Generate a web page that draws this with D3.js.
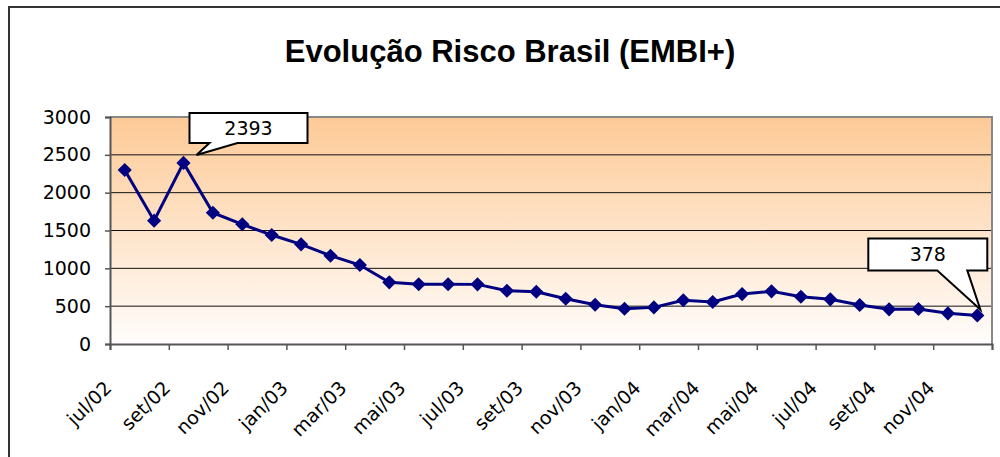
<!DOCTYPE html>
<html>
<head>
<meta charset="utf-8">
<script src="https://cdn.jsdelivr.net/npm/d3@7"></script>
<style>
  body { margin: 0; background: #fff; }
  svg { display: block; }
</style>
</head>
<body>
<svg width="1000" height="457"></svg>
<script>
// months jul/02 .. dez/04
var months = ["jul/02","ago/02","set/02","out/02","nov/02","dez/02",
  "jan/03","fev/03","mar/03","abr/03","mai/03","jun/03",
  "jul/03","ago/03","set/03","out/03","nov/03","dez/03",
  "jan/04","fev/04","mar/04","abr/04","mai/04","jun/04",
  "jul/04","ago/04","set/04","out/04","nov/04","dez/04"];

var embi = [2300, 1630, 2393, 1735, 1582, 1440, 1317, 1167, 1044, 815, 790, 790,
  788, 704, 691, 598, 519, 466, 484, 578, 555, 660, 696, 625, 590, 515, 458, 462, 405, 378];

var yTicks = [0, 500, 1000, 1500, 2000, 2500, 3000];
var callouts = [2, 29]; // indices with value boxes

var svg = d3.select("svg"),
    plotL = 110, plotR = 992, plotT = 117, plotB = 344;

var x = d3.scaleLinear().domain([0, months.length]).range([plotL, plotR]);
var y = d3.scaleLinear().domain([0, 3000]).range([plotB, plotT]);

// outer chart border
svg.append("path")
    .attr("d", "M9,458 L9,7 L1001,7")
    .attr("fill", "none")
    .attr("stroke", "#333")
    .attr("stroke-width", 2);

// title
svg.append("text")
    .attr("x", 510)
    .attr("y", 62)
    .attr("text-anchor", "middle")
    .style("font-family", "Liberation Sans, Arial, sans-serif")
    .style("font-weight", "bold")
    .style("font-size", "31px")
    .text("Evolução Risco Brasil (EMBI+)");

// plot background gradient
var grad = svg.append("defs").append("linearGradient")
    .attr("id", "bg")
    .attr("x1", 0).attr("y1", 0).attr("x2", 0).attr("y2", 1);
grad.append("stop").attr("offset", "0%").attr("stop-color", "#fdca96");
grad.append("stop").attr("offset", "100%").attr("stop-color", "#fffdfc");

svg.append("rect")
    .attr("x", plotL).attr("y", plotT)
    .attr("width", plotR - plotL).attr("height", plotB - plotT)
    .attr("fill", "url(#bg)");

// gridlines
svg.append("g")
    .selectAll("line")
    .data(yTicks.filter(function(d) { return d > 0 && d < 3000; }))
    .enter().append("line")
      .attr("x1", plotL).attr("x2", plotR)
      .attr("y1", function(d) { return y(d); })
      .attr("y2", function(d) { return y(d); })
      .attr("stroke", "#111")
      .attr("stroke-width", 1);

// plot border top/right
svg.append("path")
    .attr("d", "M" + plotL + "," + plotT + " L" + plotR + "," + plotT + " L" + plotR + "," + plotB)
    .attr("fill", "none")
    .attr("stroke", "#888")
    .attr("stroke-width", 2);

// y axis
var yAxis = svg.append("g")
    .attr("transform", "translate(" + plotL + ",0)")
    .call(d3.axisLeft(y).tickValues(yTicks).tickSize(5).tickPadding(14).tickFormat(d3.format("d")));
yAxis.select(".domain").attr("stroke", "#555").attr("stroke-width", 2);
yAxis.selectAll(".tick line").attr("stroke", "#555").attr("stroke-width", 1.5);
yAxis.selectAll("text")
    .style("font-family", "DejaVu Sans, Verdana, sans-serif")
    .style("font-size", "19px")
    .attr("fill", "#000");

// x axis
var xTicks = d3.range(0, months.length + 1, 2);
var xAxis = svg.append("g")
    .attr("transform", "translate(0," + plotB + ")")
    .call(d3.axisBottom(x).tickValues(xTicks).tickSize(6)
      .tickFormat(function(i) { return i < months.length ? months[i] : ""; }));
xAxis.select(".domain").attr("stroke", "#555").attr("stroke-width", 2);
xAxis.selectAll(".tick line").attr("stroke", "#555").attr("stroke-width", 1.5);
xAxis.selectAll("text")
    .attr("x", 0).attr("y", 0).attr("dy", null)
    .attr("text-anchor", "end")
    .attr("dominant-baseline", "hanging")
    .attr("transform", "translate(-8,35) rotate(-45)")
    .style("font-family", "DejaVu Sans, Verdana, sans-serif")
    .style("font-size", "19px")
    .attr("fill", "#000");

// series line
var line = d3.line()
    .x(function(d, i) { return x(i + 0.5); })
    .y(function(d) { return y(d); });

svg.append("path")
    .datum(embi)
    .attr("d", line)
    .attr("fill", "none")
    .attr("stroke", "#000080")
    .attr("stroke-width", 3);

svg.append("g")
    .selectAll("path")
    .data(embi)
    .enter().append("path")
      .attr("d", d3.symbol(d3.symbolSquare, 100))
      .attr("transform", function(d, i) { return "translate(" + x(i + 0.5) + "," + y(d) + ") rotate(45)"; })
      .attr("fill", "#000080");

// callout boxes
function callout(i, bx, by, bw, bh, w0, w1, tx, ty) {
  // box position relative to the data point
  var px = x(i + 0.5), py = y(embi[i]);
  var x0 = px + bx, y0 = py + by;
  var d = "M" + x0 + "," + y0 +
    " L" + (x0 + bw) + "," + y0 +
    " L" + (x0 + bw) + "," + (y0 + bh) +
    " L" + (x0 + w1) + "," + (y0 + bh) +
    " L" + (px + tx) + "," + (py + ty) +
    " L" + (x0 + w0) + "," + (y0 + bh) +
    " L" + x0 + "," + (y0 + bh) + " Z";
  svg.append("path")
      .attr("d", d)
      .attr("fill", "#fff")
      .attr("stroke", "#000")
      .attr("stroke-width", 2)
      .attr("stroke-linejoin", "miter");
  svg.append("text")
      .attr("x", x0 + bw / 2)
      .attr("y", y0 + bh / 2 + 7)
      .attr("text-anchor", "middle")
      .style("font-family", "DejaVu Sans, Verdana, sans-serif")
      .style("font-size", "19px")
      .text(embi[i]);
}

callout(callouts[0], 6, -50, 118, 30, 20, 48, 13, -8);
callout(callouts[1], -109, -77, 119, 32, 69, 99, 3, -6);
</script>
</body>
</html>
